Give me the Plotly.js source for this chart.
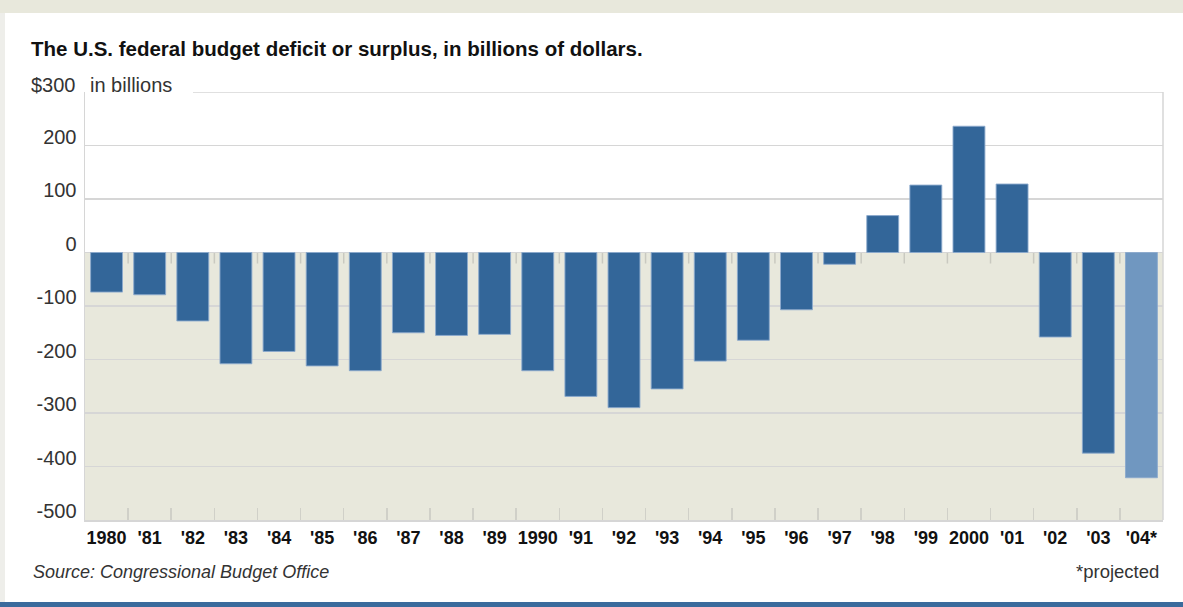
<!DOCTYPE html>
<html>
<head>
<meta charset="utf-8">
<script src="https://cdn.plot.ly/plotly-3.0.1.min.js"></script>
<style>
  html, body { margin: 0; padding: 0; background: #ffffff; }
  #chart { width: 1183px; height: 607px; }
</style>
</head>
<body>
<div id="chart"></div>
<script>
// ---- data ----
const years = ["1980", "'81", "'82", "'83", "'84", "'85", "'86", "'87", "'88", "'89",
               "1990", "'91", "'92", "'93", "'94", "'95", "'96", "'97", "'98", "'99",
               "2000", "'01", "'02", "'03", "'04*"];
const balance = [-74, -79, -128, -208, -185, -212, -221, -150, -155, -153,
                 -221, -269, -290, -255, -203, -164, -107, -22, 69, 126,
                 236, 128, -158, -375, -421];
const projected = [false, false, false, false, false, false, false, false, false, false,
                   false, false, false, false, false, false, false, false, false, false,
                   false, false, false, false, true];
const yTickVals = [-500, -400, -300, -200, -100, 0, 100, 200];
const yTickText = ["-500", "-400", "-300", "-200", "-100", "0", "100", "200"];
const yTop = 300;
const yBottom = -500;

// ---- styling ----
const FONT = "Liberation Sans, Arial, Helvetica, sans-serif";
const barColors = projected.map(p => p ? "#7097c0" : "#336699");
const W = 1183, H = 607;
const M = {l: 85, r: 20, t: 92, b: 87};
const plotW = W - M.l - M.r, plotH = H - M.t - M.b;
const px2x = px => (px - M.l) / plotW;
const py2y = py => (H - M.b - py) / plotH;

const shapes = [];
// beige area below zero
shapes.push({type: "rect", layer: "below", xref: "paper", yref: "y",
  x0: 0, x1: 1, y0: yBottom, y1: 0, fillcolor: "#e8e8dc", line: {width: 0}});
// ticks along the zero line at category boundaries
for (let i = 0; i < years.length - 1; i++) {
  shapes.push({type: "line", layer: "below", xref: "x", yref: "y",
    ysizemode: "pixel", yanchor: 0, x0: i + 0.5, x1: i + 0.5, y0: 0, y1: -11,
    line: {color: "#c9c9c0", width: 1.5}});
}
// top gridline (starts after the unit label)
shapes.push({type: "line", layer: "below", xref: "paper", yref: "y",
  x0: px2x(193), x1: 1, y0: yTop, y1: yTop, line: {color: "#d6d6d6", width: 1.5}});
// right frame
shapes.push({type: "line", layer: "above", xref: "paper", yref: "paper",
  x0: 1, x1: 1, y0: 0, y1: 1, line: {color: "#d6d6d6", width: 1.5}});
// page decorations
shapes.push({type: "rect", layer: "below", xref: "paper", yref: "paper",
  x0: px2x(0), x1: px2x(W), y0: py2y(13), y1: py2y(0), fillcolor: "#e8e8dc", line: {width: 0}});
shapes.push({type: "rect", layer: "below", xref: "paper", yref: "paper",
  x0: px2x(0), x1: px2x(5), y0: py2y(H), y1: py2y(13), fillcolor: "#eeeeea", line: {width: 0}});
shapes.push({type: "rect", layer: "above", xref: "paper", yref: "paper",
  x0: px2x(0), x1: px2x(W), y0: py2y(H), y1: py2y(602), fillcolor: "#3a6a9c", line: {width: 0}});

const annotations = [
  {xref: "paper", yref: "paper", x: px2x(78), y: py2y(85), xanchor: "right", yanchor: "middle",
   text: "$300", showarrow: false, font: {family: FONT, size: 20, color: "#333"}},
  {xref: "paper", yref: "paper", x: px2x(88), y: py2y(85), xanchor: "left", yanchor: "middle",
   text: "in billions", showarrow: false, font: {family: FONT, size: 20, color: "#333"}},
  {xref: "paper", yref: "paper", x: px2x(31), y: py2y(572), xanchor: "left", yanchor: "middle",
   text: "Source: Congressional Budget Office", showarrow: false,
   font: {family: FONT, size: 18, color: "#333", style: "italic"}},
  {xref: "paper", yref: "paper", x: px2x(1161), y: py2y(571), xanchor: "right", yanchor: "middle",
   text: "*projected", showarrow: false, font: {family: FONT, size: 18.5, color: "#333"}}
];

const trace = {
  type: "bar",
  x: years,
  y: balance,
  marker: {color: barColors, line: {color: "rgba(140,170,205,0.9)", width: 1}},
  hoverinfo: "x+y"
};

const layout = {
  width: W, height: H, autosize: false,
  margin: M,
  paper_bgcolor: "#ffffff",
  plot_bgcolor: "#ffffff",
  showlegend: false,
  bargap: 0.26,
  font: {family: FONT, color: "#333"},
  title: {
    text: "<b>The U.S. federal budget deficit or surplus, in billions of dollars.</b>",
    xref: "container", yref: "container",
    x: 31 / W, xanchor: "left", y: 1 - 49 / H, yanchor: "middle",
    font: {family: FONT, size: 20.5, color: "#111"}
  },
  xaxis: {
    type: "category",
    showgrid: false,
    zeroline: false,
    showline: true, linecolor: "#d6d6d6", linewidth: 2,
    ticks: "inside", ticklen: 12, tickwidth: 1.5, tickcolor: "#d0d0c8",
    tickson: "boundaries",
    tickangle: 0,
    tickfont: {family: FONT, size: 18, color: "#111", weight: "bold"},
    fixedrange: true
  },
  yaxis: {
    range: [yBottom, yTop],
    tickvals: yTickVals, ticktext: yTickText,
    showgrid: true, gridcolor: "#d6d6d6", gridwidth: 1.5,
    zeroline: false,
    showline: true, linecolor: "#d6d6d6", linewidth: 1.5,
    ticks: "", ticklabelposition: "outside top",
    ticklabelshift: 5, ticklabelstandoff: 3,
    tickfont: {family: FONT, size: 20, color: "#333"},
    fixedrange: true
  },
  shapes: shapes,
  annotations: annotations
};

Plotly.newPlot("chart", [trace], layout, {displayModeBar: false, staticPlot: true});
</script>
</body>
</html>
